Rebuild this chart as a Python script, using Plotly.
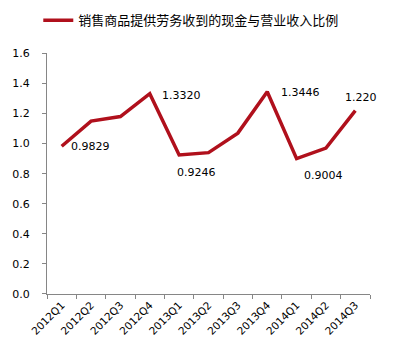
import plotly.graph_objects as go

categories = ["2012Q1", "2012Q2", "2012Q3", "2012Q4", "2013Q1", "2013Q2",
              "2013Q3", "2013Q4", "2014Q1", "2014Q2", "2014Q3"]
values = [0.9829, 1.15, 1.18, 1.3320, 0.9246, 0.94, 1.07, 1.3446, 0.9004, 0.97, 1.220]
series_name = "销售商品提供劳务收到的现金与营业收入比例"

# labelled points: (index, text, xshift, yshift)
label_idx = [0, 3, 4, 7, 8, 10]
label_txt = ["0.9829", "1.3320", "0.9246", "1.3446", "0.9004", "1.220"]
label_dx = [29, 32, 17, 33, 27, 6]
label_dy = [0, -2, -18, -1, -17, 13]

red = "#B0101C"
font_num = "DejaVu Sans"

fig = go.Figure()
fig.add_trace(go.Scatter(
    x=categories, y=values, mode="lines", name=series_name,
    line=dict(color=red, width=3.5),
))

for i, t, dx, dy in zip(label_idx, label_txt, label_dx, label_dy):
    fig.add_annotation(x=categories[i], y=values[i], text=t, showarrow=False,
                       xshift=dx, yshift=dy,
                       font=dict(family=font_num, size=11, color="#000000"))

fig.update_layout(
    width=403, height=351,
    margin=dict(l=39, r=33, t=50, b=57),
    paper_bgcolor="white", plot_bgcolor="white",
    showlegend=True,
    legend=dict(orientation="h", x=0.095, y=0.985, xanchor="left", yanchor="top",
                yref="container", xref="container",
                font=dict(family="Noto Sans CJK SC", size=13, color="#000000"),
                bgcolor="rgba(0,0,0,0)"),
    xaxis=dict(range=[-0.5, 10.5], showline=True, linecolor="#868686", linewidth=1,
               ticks="outside", ticklen=4, tickcolor="#868686",
               tickson="boundaries", tickangle=-45,
               tickfont=dict(family=font_num, size=10.5, color="#000000"),
               showgrid=False, zeroline=False),
    yaxis=dict(range=[0, 1.6], dtick=0.2, tickformat=".1f",
               showline=True, linecolor="#868686", linewidth=1,
               ticks="outside", ticklen=4, tickcolor="#868686",
               ticklabelstandoff=10,
               tickfont=dict(family=font_num, size=11, color="#000000"),
               showgrid=False, zeroline=False),
)

fig.write_html("out.html")
